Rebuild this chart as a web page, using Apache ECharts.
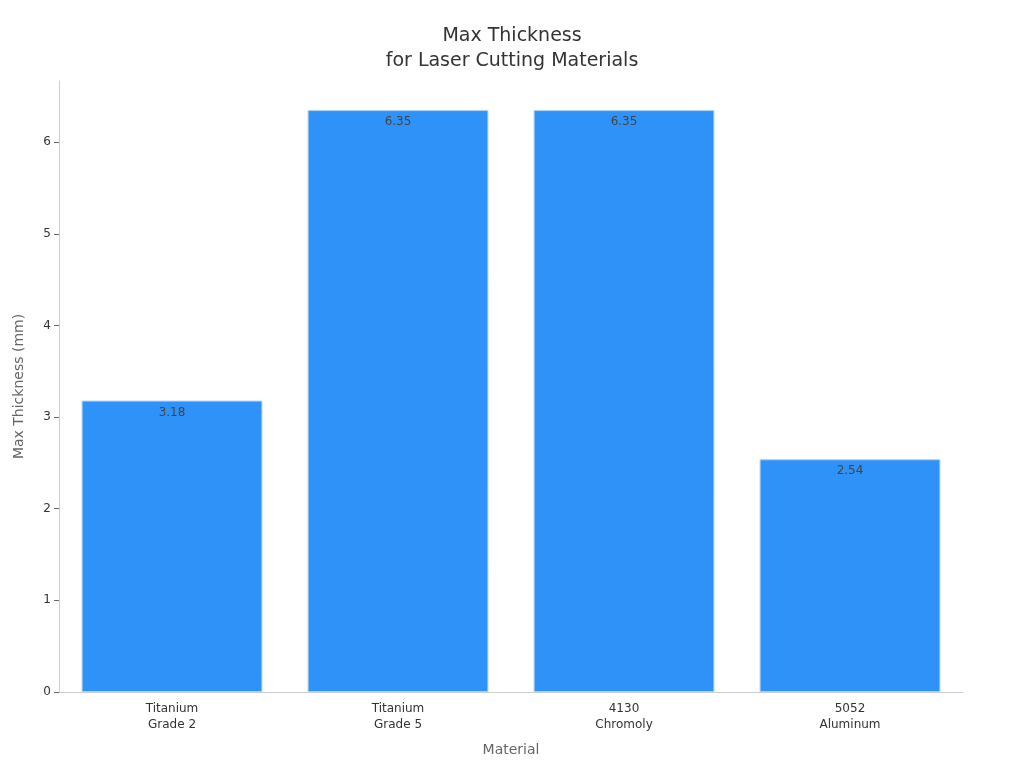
<!DOCTYPE html>
<html><head><meta charset="utf-8">
<script src="https://cdn.jsdelivr.net/npm/echarts@6/dist/echarts.min.js"></script>
<style>html,body{margin:0;padding:0;background:#fff}#c{width:1024px;height:768px}</style>
</head><body><div id="c"></div>
<script>
const categories = ['Titanium\nGrade 2', 'Titanium\nGrade 5', '4130\nChromoly', '5052\nAluminum'];
const thickness = [3.18, 6.35, 6.35, 2.54];
const yTicks = [0, 1, 2, 3, 4, 5, 6];

const chart = echarts.init(document.getElementById('c'));
const font = 'DejaVu Sans';
chart.setOption({
  animation: false,
  title: {
    text: 'Max Thickness\nfor Laser Cutting Materials',
    left: 'center', top: 19,
    textStyle: { fontFamily: font, fontSize: 19, fontWeight: 'normal', color: '#333', lineHeight: 25 }
  },
  grid: { left: 59, right: 61, top: 81, bottom: 76, containLabel: false, outerBoundsMode: 'none' },
  xAxis: {
    type: 'category', data: categories,
    name: 'Material', nameLocation: 'middle', nameGap: 51,
    nameTextStyle: { fontFamily: font, fontSize: 14, color: '#666' },
    axisLine: { lineStyle: { color: '#ccc' } },
    axisTick: { alignWithLabel: true, lineStyle: { color: '#999' } },
    axisLabel: { fontFamily: font, fontSize: 12, color: '#333', lineHeight: 16, margin: 9 }
  },
  yAxis: {
    type: 'value', min: 0, max: 6.6675, interval: 1,
    name: 'Max Thickness (mm)', nameLocation: 'middle', nameGap: 33,
    nameTextStyle: { fontFamily: font, fontSize: 14, color: '#666' },
    axisLine: { show: true, lineStyle: { color: '#ccc' } },
    axisTick: { show: true, customValues: yTicks, lineStyle: { color: '#666' } },
    splitLine: { show: false },
    axisLabel: { fontFamily: font, fontSize: 12, color: '#333', customValues: yTicks }
  },
  series: [{
    type: 'bar', data: thickness, barCategoryGap: '20%',
    itemStyle: { color: '#2f92f8', borderColor: '#a9d0f7', borderWidth: 1 },
    label: { show: true, position: 'insideTop', distance: 6, fontFamily: font, fontSize: 12, color: '#444',
      formatter: p => p.value.toFixed(2) }
  }]
});
</script></body></html>
